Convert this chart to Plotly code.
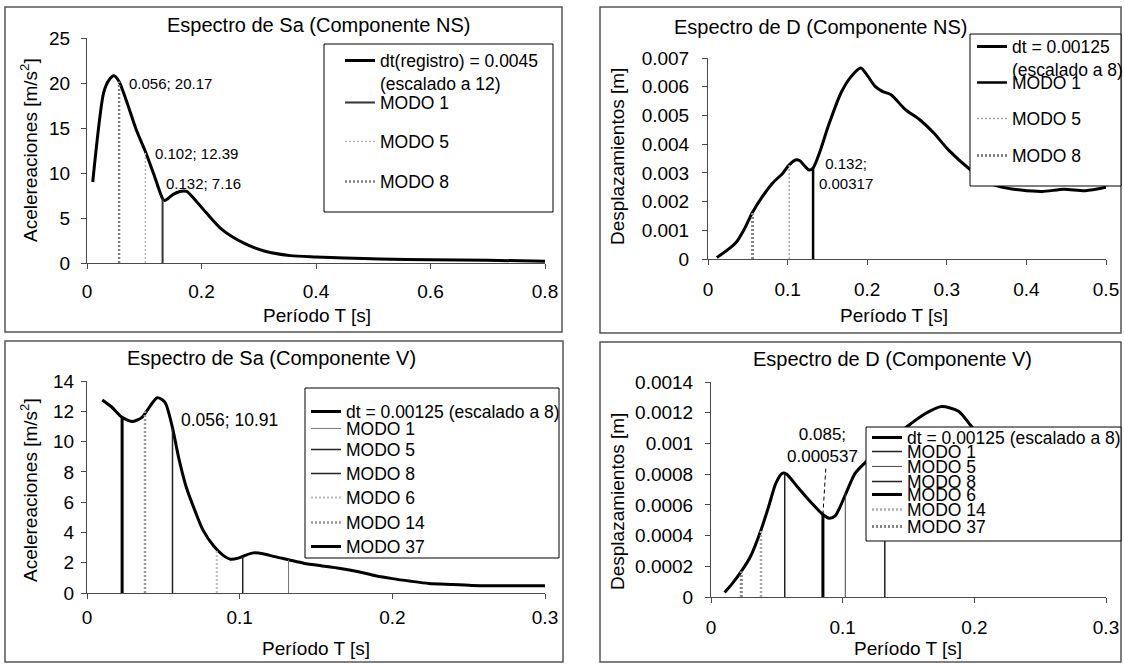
import plotly.graph_objects as go

# ---------------- data ----------------
# Espectro de Sa (Componente NS)
ns_sa_T = [0.010, 0.029, 0.038, 0.047, 0.056, 0.070, 0.086, 0.102, 0.117, 0.132, 0.136, 0.150,
           0.162, 0.174, 0.189, 0.208, 0.236, 0.274, 0.311, 0.355, 0.400, 0.450, 0.512, 0.600,
           0.700, 0.800]
ns_sa = [9.0, 18.9, 20.3, 20.8, 20.17, 17.8, 14.8, 12.39, 9.8, 7.16, 6.95, 7.6,
         7.95, 7.95, 7.0, 5.6, 3.7, 2.2, 1.3, 0.82, 0.67, 0.55, 0.45, 0.35,
         0.3, 0.2]
ns_sa_label = "dt(registro) = 0.0045<br>(escalado a 12)"

# Espectro de D (Componente NS)
ns_d_T = [0.011, 0.027, 0.036, 0.045, 0.056, 0.067, 0.081, 0.094, 0.102, 0.110, 0.115, 0.122,
          0.127, 0.132, 0.140, 0.151, 0.167, 0.180, 0.192, 0.201, 0.210, 0.219, 0.230, 0.248,
          0.266, 0.284, 0.302, 0.330, 0.350, 0.366, 0.393, 0.420, 0.447, 0.474, 0.500]
ns_d = [0.00005, 0.00037, 0.00060, 0.00101, 0.00163, 0.00212, 0.00264, 0.00299, 0.00328, 0.00345,
        0.00343, 0.00322, 0.00310, 0.00317, 0.00369, 0.00462, 0.00578, 0.00636, 0.00665, 0.00636,
        0.00601, 0.00584, 0.00572, 0.00520, 0.00485, 0.00438, 0.00380, 0.00310, 0.00270, 0.00252,
        0.00240, 0.00235, 0.00243, 0.00238, 0.00250]
ns_d_label = "dt = 0.00125<br>(escalado a 8)"

ns_mode_names = ["MODO 1", "MODO 5", "MODO 8"]
ns_mode_T = [0.132, 0.102, 0.056]
ns_mode_sa = [7.16, 12.39, 20.17]
ns_mode_d = [0.00317, 0.00328, 0.00163]

# Espectro de Sa (Componente V)
v_sa_T = [0.010, 0.016, 0.023, 0.030, 0.036, 0.039, 0.046, 0.051, 0.056, 0.060, 0.065, 0.071,
          0.076, 0.083, 0.089, 0.094, 0.099, 0.104, 0.109, 0.116, 0.123, 0.132, 0.142, 0.154,
          0.165, 0.177, 0.189, 0.200, 0.212, 0.224, 0.238, 0.252, 0.266, 0.300]
v_sa = [12.75, 12.3, 11.6, 11.32, 11.6, 12.0, 12.9, 12.6, 10.91, 8.96, 7.0, 5.36,
        4.15, 3.1, 2.5, 2.23, 2.3, 2.5, 2.65, 2.58, 2.4, 2.2, 1.97, 1.79,
        1.64, 1.42, 1.14, 0.95, 0.78, 0.63, 0.56, 0.50, 0.48, 0.48]

# Espectro de D (Componente V)
v_d_T = [0.0104, 0.0164, 0.023, 0.030, 0.038, 0.0438, 0.0492, 0.0541, 0.0574, 0.0656, 0.0766,
         0.085, 0.0897, 0.0943, 0.1025, 0.1094, 0.1176, 0.125, 0.132, 0.140, 0.152, 0.162,
         0.175, 0.188, 0.197, 0.210, 0.230, 0.260, 0.300]
v_d = [0.00003, 0.00009, 0.000167, 0.000264, 0.000437, 0.000589, 0.00074, 0.000805, 0.0008,
       0.000718, 0.00061, 0.000537, 0.000513, 0.000528, 0.000675, 0.000805, 0.00088, 0.00094,
       0.00100, 0.00105, 0.00113, 0.00119, 0.00124, 0.00121, 0.00112, 0.00098, 0.00088,
       0.00095, 0.00108]
v_label = "dt = 0.00125 (escalado a 8)"

v_mode_names = ["MODO 1", "MODO 5", "MODO 8", "MODO 6", "MODO 14", "MODO 37"]
v_mode_T = [0.132, 0.102, 0.056, 0.085, 0.038, 0.023]
v_mode_sa = [2.2, 2.4, 10.91, 2.9, 12.0, 11.6]
v_mode_d = [0.00100, 0.000675, 0.000805, 0.000537, 0.000437, 0.000167]

# tick labels
p1_xticks = [0, 0.2, 0.4, 0.6, 0.8]
p1_xtext = ["0", "0.2", "0.4", "0.6", "0.8"]
p1_yticks = [0, 5, 10, 15, 20, 25]
p1_ytext = ["0", "5", "10", "15", "20", "25"]
p2_xticks = [0, 0.1, 0.2, 0.3, 0.4, 0.5]
p2_xtext = ["0", "0.1", "0.2", "0.3", "0.4", "0.5"]
p2_yticks = [0, 0.001, 0.002, 0.003, 0.004, 0.005, 0.006, 0.007]
p2_ytext = ["0", "0.001", "0.002", "0.003", "0.004", "0.005", "0.006", "0.007"]
p3_xticks = [0, 0.1, 0.2, 0.3]
p3_xtext = ["0", "0.1", "0.2", "0.3"]
p3_yticks = [0, 2, 4, 6, 8, 10, 12, 14]
p3_ytext = ["0", "2", "4", "6", "8", "10", "12", "14"]
p4_xticks = [0, 0.1, 0.2, 0.3]
p4_xtext = ["0", "0.1", "0.2", "0.3"]
p4_yticks = [0, 0.0002, 0.0004, 0.0006, 0.0008, 0.001, 0.0012, 0.0014]
p4_ytext = ["0", "0.0002", "0.0004", "0.0006", "0.0008", "0.001", "0.0012", "0.0014"]

# ---------------- layout helpers ----------------
W, H = 1124, 664
FONT = "Liberation Sans, Arial, sans-serif"
AX = "#4a4a4a"


def px_x(p):
    return p / W


def px_y(p):
    return 1 - p / H


fig = go.Figure()
legends = {}
count = [0]


def add_line(x, y, name, color, width, dash, idx, sym_left, yc, spline=False, fs=17.5):
    count[0] += 1
    k = count[0]
    lname = "legend" if k == 1 else "legend%d" % k
    line = dict(color=color, width=width, dash=dash)
    if spline:
        line.update(shape="spline", smoothing=0.7)
    fig.add_trace(go.Scatter(
        x=x, y=y, name=name, mode="lines", line=line,
        xaxis="x" if idx == 1 else "x%d" % idx,
        yaxis="y" if idx == 1 else "y%d" % idx,
        legend=lname, showlegend=True, hoverinfo="skip"))
    lh = 1.3 * fs
    top = yc - (5 + (lh + 3) / 2 + 0.3 * lh - 0.358 * fs)
    legends[lname] = dict(
        x=px_x(sym_left - 5), y=px_y(top), xanchor="left", yanchor="top",
        bgcolor="rgba(0,0,0,0)", borderwidth=0, valign="top", itemwidth=30,
        font=dict(family=FONT, size=fs, color="black"),
        itemclick=False, itemdoubleclick=False)


def set_axes(idx, xpx, ypx, xr, yr, xt, xtt, yt, ytt, xso, yso):
    xs = "xaxis" if idx == 1 else "xaxis%d" % idx
    ys = "yaxis" if idx == 1 else "yaxis%d" % idx
    common = dict(showgrid=False, zeroline=False, showline=True, linecolor=AX, linewidth=1,
                  ticks="outside", ticklen=5, tickwidth=1, tickcolor=AX, fixedrange=True,
                  tickfont=dict(family=FONT, size=19, color="black"), tickmode="array",
                  automargin=False)
    fig.layout[xs] = dict(domain=[px_x(xpx[0]), px_x(xpx[1])], range=xr,
                          anchor="y" if idx == 1 else "y%d" % idx,
                          tickvals=xt, ticktext=xtt, ticklabelstandoff=xso, **common)
    fig.layout[ys] = dict(domain=[px_y(ypx[1]), px_y(ypx[0])], range=yr,
                          anchor="x" if idx == 1 else "x%d" % idx,
                          tickvals=yt, ticktext=ytt, ticklabelstandoff=yso, **common)


annotations = []
shapes = []


def text(xp, yp, s, size, xanchor="center", angle=0):
    annotations.append(dict(x=px_x(xp), y=px_y(yp), xref="paper", yref="paper", text=s,
                            showarrow=False, xanchor=xanchor, yanchor="middle", textangle=angle,
                            font=dict(family=FONT, size=size, color="black")))


def rect(x0, y0, x1, y1, line_color, lw, fill, layer):
    shapes.append(dict(type="rect", xref="paper", yref="paper", x0=px_x(x0), x1=px_x(x1),
                       y0=px_y(y1), y1=px_y(y0), line=dict(color=line_color, width=lw),
                       fillcolor=fill, layer=layer))


# panel borders
for b in [(5, 7, 562, 332), (600, 7, 1121, 333), (5, 341, 563, 662), (600, 342, 1121, 662)]:
    rect(*b, "#555555", 1.5, "rgba(0,0,0,0)", "below")

# legend boxes
for b in [(324, 44, 553, 212), (970, 34, 1121, 186), (305, 388, 559, 558), (866, 427, 1121, 541)]:
    rect(*b, "black", 1, "white", "above")

DOT = "2px,2px"

# ---------------- panel 1: Sa NS ----------------
set_axes(1, (87, 545), (38, 263), [0, 0.8], [0, 25], p1_xticks, p1_xtext, p1_yticks, p1_ytext, 6, 7)
p1_styles = [("#333333", 2, "solid"), ("#b5b5b5", 1.5, DOT), ("#808080", 2.5, DOT)]
p1_leg_y = [103, 142, 182]
add_line(ns_sa_T, ns_sa, ns_sa_label, "black", 3, "solid", 1, 345, 61, spline=True)
for n, t, v, st, ly in zip(ns_mode_names, ns_mode_T, ns_mode_sa, p1_styles, p1_leg_y):
    add_line([t, t], [0, v], n, st[0], st[1], st[2], 1, 345, ly)
p1_lab_pos = [(164, 183), (153, 153), (127, 83)]
for t, v, pos in zip(ns_mode_T, ns_mode_sa, p1_lab_pos):
    text(pos[0], pos[1], "%g; %g" % (t, v), 15, xanchor="left")
text(319, 25, "Espectro de Sa (Componente NS)", 20)
text(317, 315, "Período T [s]", 19)
text(29, 150, "Acelereaciones [m/s<sup>2</sup>]", 19, angle=-90)

# ---------------- panel 2: D NS ----------------
set_axes(2, (708, 1106), (58, 259), [0, 0.5], [0, 0.007], p2_xticks, p2_xtext, p2_yticks, p2_ytext, 8, 9)
p2_styles = [("black", 2.5, "solid"), ("#a8a8a8", 1.5, DOT), ("#858585", 3, DOT)]
p2_leg_y = [83, 119, 156]
add_line(ns_d_T, ns_d, ns_d_label, "black", 3, "solid", 2, 977, 47, spline=True)
for n, t, v, st, ly in zip(ns_mode_names, ns_mode_T, ns_mode_d, p2_styles, p2_leg_y):
    add_line([t, t], [0, v], n, st[0], st[1], st[2], 2, 977, ly)
text(846, 173, "%g;<br>%g" % (ns_mode_T[0], ns_mode_d[0]), 15)
text(820, 27, "Espectro de D (Componente NS)", 20)
text(894, 315, "Período T [s]", 19)
text(617, 157, "Desplazamientos [m]", 19, angle=-90)

# ---------------- panel 3: Sa V ----------------
set_axes(3, (87, 545), (381, 593), [0, 0.3], [0, 14], p3_xticks, p3_xtext, p3_yticks, p3_ytext, 2, 3)
v3_styles = [("#777777", 1, "solid"), ("#222222", 1.5, "solid"), ("#222222", 1.5, "solid"),
             ("#bbbbbb", 2, DOT), ("#999999", 2.5, DOT), ("black", 3, "solid")]
p3_leg_y = [429, 450, 474, 498, 523, 547]
add_line(v_sa_T, v_sa, v_label, "black", 3, "solid", 3, 311, 412, spline=True)
for n, t, v, st, ly in zip(v_mode_names, v_mode_T, v_mode_sa, v3_styles, p3_leg_y):
    add_line([t, t], [0, v], n, st[0], st[1], st[2], 3, 311, ly)
text(179, 420, "%g; %g" % (v_mode_T[2], v_mode_sa[2]), 17.5, xanchor="left")
text(271, 358, "Espectro de Sa (Componente V)", 20)
text(316, 648, "Período T [s]", 19)
text(29, 490, "Acelereaciones [m/s<sup>2</sup>]", 19, angle=-90)

# ---------------- panel 4: D V ----------------
set_axes(4, (711, 1106), (382, 597), [0, 0.3], [0, 0.0014], p4_xticks, p4_xtext, p4_yticks, p4_ytext, 8, 8)
v4_styles = [("#222222", 1.5, "solid"), ("#444444", 1, "solid"), ("#222222", 1.5, "solid"),
             ("black", 3, "solid"), ("#aaaaaa", 2.5, DOT), ("#858585", 3, DOT)]
p4_leg_y = [452, 467, 482, 495, 510, 527]
add_line(v_d_T, v_d, v_label, "black", 3, "solid", 4, 872, 438, spline=True)
for n, t, v, st, ly in zip(v_mode_names, v_mode_T, v_mode_d, v4_styles, p4_leg_y):
    add_line([t, t], [0, v], n, st[0], st[1], st[2], 4, 872, ly)
text(823, 445, "%g;<br>%g" % (v_mode_T[3], v_mode_d[3]), 17)
# leader line from label to MODO 6 point
shapes.append(dict(type="line", xref="x4", yref="y4", xsizemode="pixel", ysizemode="pixel",
                   xanchor=v_mode_T[3], yanchor=v_mode_d[3], x0=0, y0=0, x1=3, y1=48,
                   line=dict(color="black", width=1, dash="4px,3px"), layer="above"))
text(892, 359, "Espectro de D (Componente V)", 20)
text(908, 648, "Período T [s]", 19)
text(617, 502, "Desplazamientos [m]", 19, angle=-90)

fig.update_layout(
    width=W, height=H, autosize=False,
    margin=dict(l=0, r=0, t=0, b=0, pad=0, autoexpand=False),
    paper_bgcolor="white", plot_bgcolor="rgba(0,0,0,0)",
    font=dict(family=FONT, color="black"),
    showlegend=True, hovermode=False,
    annotations=annotations, shapes=shapes,
    **legends)

fig.write_html("out.html")
